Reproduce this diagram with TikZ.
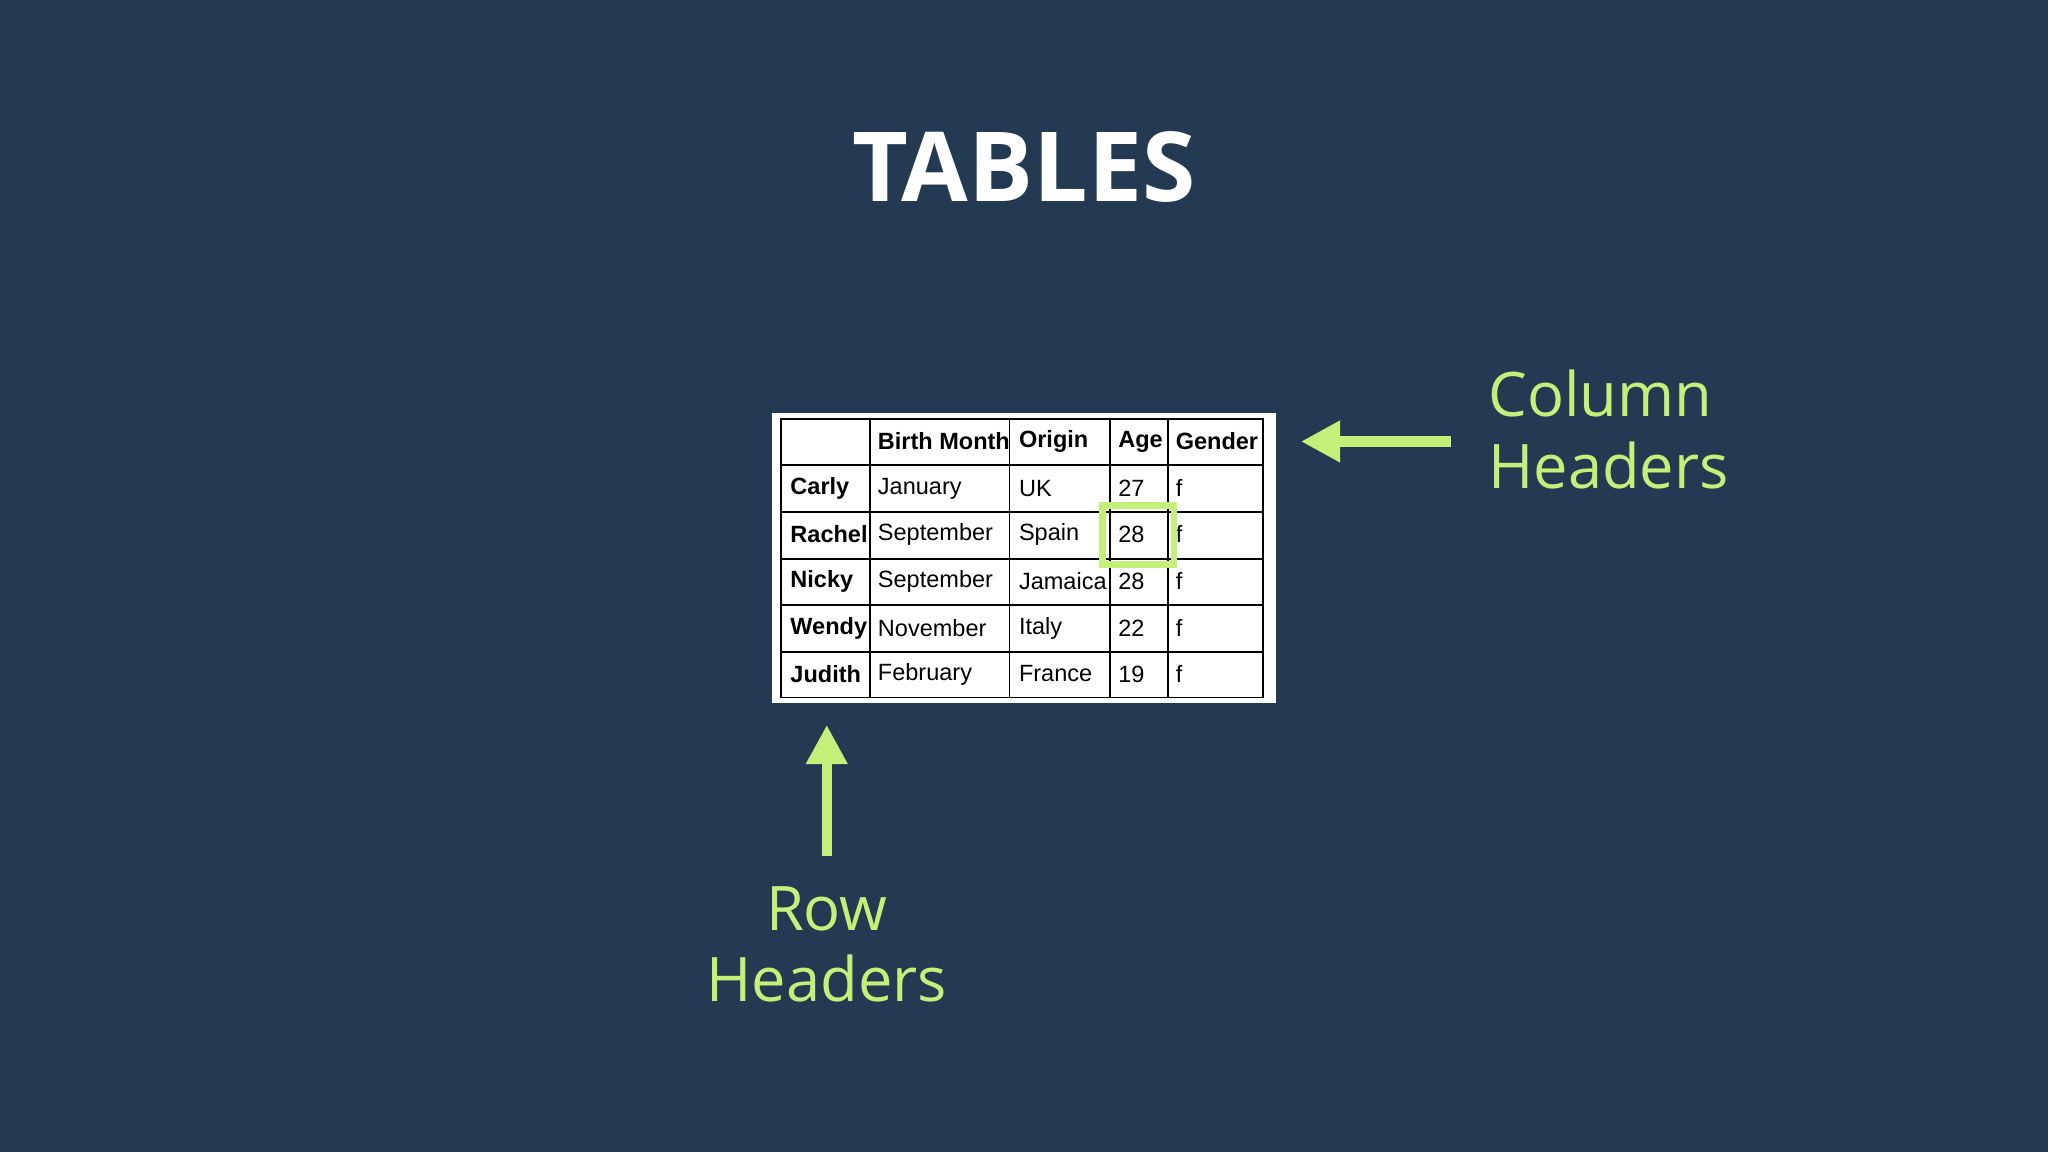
\documentclass[tikz,border=0pt]{standalone}
\usepackage{fontspec}
\setmainfont{Open Sans}
\newfontfamily\tabfont{Liberation Sans}
\usetikzlibrary{arrows.meta}
\definecolor{bg}{RGB}{36,58,83}
\definecolor{lime}{RGB}{196,240,122}
\tikzset{
  cell/.style={anchor=west,inner sep=0pt,font=\tabfont\fontsize{18}{20}\selectfont,text=black},
  hcell/.style={cell,font=\tabfont\bfseries\fontsize{18}{20}\selectfont},
  grid/.style={draw=black,line width=1.3pt},
  label/.style={text=lime,font=\fontsize{47}{55}\selectfont,align=left},
  garrow/.style={draw=lime,line width=8pt,-{Triangle[length=30pt,width=30pt]}}
}
\begin{document}
\begin{tikzpicture}[x=1pt,y=-1pt]
\fill[bg] (0,0) rectangle (1568,882);
\useasboundingbox (0,0) rectangle (1568,882);
\node[text=white,font=\bfseries\fontsize{74}{80}\selectfont] (title) at (784,128) {TABLES};
\fill[white] (591,316) rectangle (977,538);
\draw[grid] (598,321) rectangle (967,534);
\foreach \x in {666,773,850,894} \draw[grid] (\x,321) -- (\x,534);
\foreach \y in {356,392,428,463,499} \draw[grid] (598,\y) -- (967,\y);
% header row
\node[hcell] (h1) at (672,338) {Birth Month};
\node[hcell] (h2) at (780,338) {Origin};
\node[hcell] (h3) at (856,338) {Age};
\node[hcell] (h4) at (900,338) {Gender};
\foreach \n/\m/\o/\a/\g/\y in {Carly/January/UK/27/f/374,Rachel/September/Spain/28/f/409,Nicky/September/Jamaica/28/f/445,Wendy/November/Italy/22/f/481,Judith/February/France/19/f/516}{
  \node[hcell] (r\n) at (605,\y) {\n};
  \node[cell] (m\n) at (672,\y) {\m};
  \node[cell] (o\n) at (780,\y) {\o};
  \node[cell] (a\n) at (856,\y) {\a};
  \node[cell] (g\n) at (900,\y) {\g};
}
\draw[draw=lime,line width=5pt] (844,387) rectangle (899,432);
\node[label,anchor=north west] (colhdr) at (1136,280) {Column\\Headers};
\node[label,align=center,anchor=north] (rowhdr) at (633,675) {Row\\Headers};
\coordinate (cs) at (1111,338);
\coordinate (ce) at (996,338);
\coordinate (rs) at (633,655);
\coordinate (re) at (633,555);
\draw[garrow] (cs) -- (ce);
\draw[garrow] (rs) -- (re);
\end{tikzpicture}
\end{document}
